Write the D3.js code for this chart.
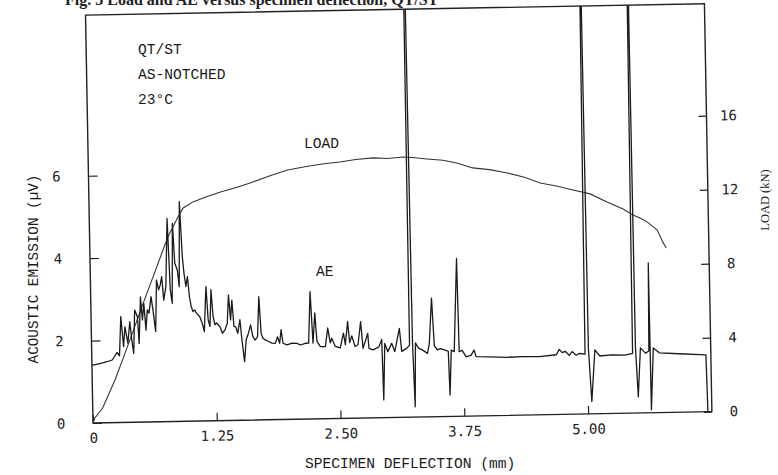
<!DOCTYPE html>
<html>
<head>
	<meta charset="utf-8" />
	<title>Load and AE</title>
	<style>
		body { margin: 0; background: #fff; }
		svg { display: block; }
		.tick text { font-family: "DejaVu Sans Mono", monospace; font-size: 14px; fill: #222; }
		.tick line { stroke: #222; stroke-width: 1.2; }
		.note { font-family: "Liberation Mono", "DejaVu Sans Mono", monospace; font-size: 14.6px; fill: #1a1a1a; }
	</style>
</head>
<body>
	<script type="text/javascript" src="https://cdn.jsdelivr.net/npm/d3@7/dist/d3.min.js"></script>
	<script type="text/javascript">
		// deflection ticks (mm)
		var xTicks = [0, 1.25, 2.50, 3.75, 5.00];
		var aeTicks = [0, 2, 4, 6];
		var loadTicks = [0, 4, 8, 12, 16];

		// load curve
		var loadMM = [0, 0.02, 0.10, 0.23, 0.31, 0.42, 0.53, 0.66, 0.79, 0.89, 0.95, 1.05, 1.18, 1.33, 1.50, 1.66, 1.84, 2.01, 2.20, 2.38, 2.54, 2.70, 2.88, 3.02, 3.18, 3.30, 3.42, 3.58, 3.72, 3.88, 4.05, 4.23, 4.40, 4.56, 4.72, 4.89, 5.06, 5.23, 5.39, 5.49, 5.56, 5.63, 5.73, 5.79, 5.82];
		var loadKN = [0, 0.27, 0.80, 2.30, 3.38, 4.90, 6.44, 8.20, 9.98, 11.0, 11.53, 11.85, 12.1, 12.36, 12.6, 12.87, 13.2, 13.48, 13.65, 13.78, 13.86, 13.98, 14.05, 14.0, 14.07, 14.02, 13.94, 13.85, 13.69, 13.41, 13.3, 13.1, 12.85, 12.53, 12.35, 12.12, 11.89, 11.44, 11.04, 10.71, 10.54, 10.32, 9.88, 9.17, 8.89];

		// acoustic emission trace (values of 11 are off scale, pen hits the top)
		var aeMM = [0.00, 0.02, 0.10, 0.15, 0.205, 0.256, 0.28, 0.30, 0.323, 0.34, 0.367, 0.39, 0.407, 0.424, 0.441, 0.468, 0.481, 0.502, 0.518, 0.535,
			0.552, 0.569, 0.586, 0.609, 0.626, 0.650, 0.667, 0.687, 0.704, 0.720, 0.737, 0.761, 0.785, 0.805, 0.822, 0.838, 0.855, 0.879, 0.896, 0.912,
			0.932, 0.946, 0.963, 0.980, 0.997, 1.013, 1.030, 1.047, 1.064, 1.098, 1.121, 1.141, 1.165, 1.182, 1.199, 1.215, 1.232, 1.249, 1.266, 1.300,
			1.323, 1.350, 1.374, 1.391, 1.408, 1.424, 1.441, 1.458, 1.478, 1.502, 1.519, 1.542, 1.562, 1.586, 1.609, 1.629, 1.653, 1.677, 1.697, 1.714,
			1.731, 1.754, 1.788, 1.822, 1.855, 1.879, 1.899, 1.916, 1.933, 1.973, 2.024, 2.074, 2.108, 2.158, 2.192, 2.215, 2.236, 2.259, 2.276, 2.310,
			2.360, 2.387, 2.410, 2.426, 2.460, 2.510, 2.545, 2.562, 2.589, 2.606, 2.629, 2.660, 2.690, 2.72, 2.74, 2.79, 2.80, 2.84, 2.90, 2.93,
			2.94, 2.96, 2.99, 3.03, 3.06, 3.11, 3.13, 3.18, 3.21, 3.215, 3.228, 3.24, 3.256, 3.27, 3.30, 3.33, 3.39, 3.41, 3.44, 3.46,
			3.49, 3.52, 3.57, 3.60, 3.61, 3.63, 3.66, 3.70, 3.71, 3.74, 3.78, 3.83, 3.86, 3.88, 4.02, 4.19, 4.35, 4.52, 4.69, 4.72,
			4.75, 4.78, 4.82, 4.85, 4.89, 4.92, 4.98, 4.995, 5.005, 5.015, 5.04, 5.08, 5.13, 5.25, 5.38, 5.46, 5.472, 5.482, 5.49, 5.51,
			5.54, 5.59, 5.625, 5.635, 5.64, 5.67, 5.73, 5.93, 6.14, 6.20, 6.21];
		var aeUV = [1.40, 1.41, 1.45, 1.48, 1.52, 1.70, 1.62, 2.57, 1.84, 2.32, 1.92, 2.44, 2.00, 1.67, 2.72, 2.56, 1.91, 3.04, 2.48, 2.88,
			2.23, 2.72, 2.64, 3.04, 2.72, 2.19, 3.44, 3.20, 3.32, 3.52, 2.95, 3.28, 4.93, 3.19, 2.87, 4.81, 3.84, 3.68, 3.27, 5.33,
			4.00, 3.59, 3.27, 3.51, 3.02, 2.78, 2.66, 2.70, 2.62, 2.53, 2.37, 2.17, 3.26, 2.45, 2.29, 3.18, 2.53, 2.33, 2.37, 2.28,
			2.12, 2.20, 2.36, 3.05, 2.44, 2.92, 2.28, 2.27, 2.11, 2.44, 1.95, 1.42, 1.95, 2.11, 2.31, 2.03, 1.94, 2.02, 2.99, 2.10,
			1.98, 1.94, 1.90, 1.86, 1.85, 2.01, 1.85, 2.18, 1.85, 1.81, 1.85, 1.84, 1.80, 1.84, 1.84, 3.09, 1.84, 2.57, 1.88, 1.75,
			1.75, 2.20, 1.84, 1.95, 1.75, 1.71, 2.07, 1.79, 2.35, 1.84, 2.00, 1.74, 1.78, 2.34, 1.69, 2.05, 1.69, 1.65, 1.72, 1.90,
			0.43, 1.80, 1.60, 1.80, 1.60, 2.16, 1.60, 1.67, 1.75, 11, 11, 1.85, 0.25, 1.80, 1.67, 1.64, 1.54, 1.78, 2.88, 1.72,
			1.62, 1.65, 1.61, 1.58, 0.52, 1.61, 1.57, 3.83, 1.57, 1.60, 1.44, 1.48, 1.60, 1.44, 1.43, 1.41, 1.42, 1.41, 1.45, 1.58,
			1.50, 1.53, 1.43, 1.52, 1.43, 1.47, 1.45, 11, 11, 1.60, 0.30, 1.55, 1.40, 1.42, 1.41, 1.45, 11, 11, 1.60, 0.39,
			1.58, 1.45, 1.50, 3.64, 0.07, 1.57, 1.45, 1.42, 1.39, 1.38, 0];

		var W = 619, H = 408;
		var svg = d3.select("body").append("svg").attr("width", 778).attr("height", 475);

		// figure caption, mostly cut off by the page edge
		svg.append("text")
			.attr("x", 65).attr("y", 5)
			.style("font-family", "Liberation Serif, serif").style("font-size", "16px").style("font-weight", "bold")
			.style("fill", "#222")
			.text("Fig. 5  Load and AE versus specimen deflection, QT/ST");

		// the scan is slightly rotated
		var g = svg.append("g").attr("transform", "translate(93,423) rotate(-1.05)");

		var x = d3.scaleLinear().domain([0, 6.25]).range([0, W]);
		var yAE = d3.scaleLinear().domain([0, 9.9]).range([0, -H]);
		var yLoad = d3.scaleLinear().domain([0, H / 18.5]).range([0, -H]);

		g.append("clipPath").attr("id", "plotClip")
			.append("rect").attr("x", 0).attr("y", -H).attr("width", W).attr("height", H);

		var xAxis = g.append("g")
			.call(d3.axisBottom(x).tickValues(xTicks).tickSizeInner(-8).tickSizeOuter(0).tickPadding(10)
				.tickFormat(function(d) { return d == 0 ? "0" : d.toFixed(2); }));
		xAxis.select(".domain").remove();

		var leftAxis = g.append("g")
			.call(d3.axisLeft(yAE).tickValues(aeTicks).tickSizeInner(-9).tickSizeOuter(0).tickPadding(0));
		leftAxis.select(".domain").remove();
		leftAxis.selectAll("text").attr("text-anchor", "middle").attr("x", -32);

		var rightAxis = g.append("g").attr("transform", "translate(" + W + ",0)")
			.call(d3.axisRight(yLoad).tickValues(loadTicks).tickSizeInner(-8).tickSizeOuter(0).tickPadding(0));
		rightAxis.select(".domain").remove();
		rightAxis.selectAll("text").attr("text-anchor", "middle").attr("x", 22);

		g.append("rect")
			.attr("x", 0).attr("y", -H).attr("width", W).attr("height", H)
			.attr("fill", "none").attr("stroke", "#222").attr("stroke-width", 1.4);

		var plot = g.append("g").attr("clip-path", "url(#plotClip)");

		var loadLine = d3.line()
			.x(function(d, i) { return x(loadMM[i]); })
			.y(function(d) { return yLoad(d); });
		plot.append("path")
			.attr("d", loadLine(loadKN))
			.attr("fill", "none").attr("stroke", "#333").attr("stroke-width", 1.1);

		var aeLine = d3.line()
			.x(function(d, i) { return x(aeMM[i]); })
			.y(function(d) { return yAE(d); });
		plot.append("path")
			.attr("d", aeLine(aeUV))
			.attr("fill", "none").attr("stroke", "#1a1a1a").attr("stroke-width", 1.3)
			.attr("stroke-linejoin", "round");

		// annotations
		var notes = [
			{ t: "QT/ST", x: 138, y: 54 },
			{ t: "AS-NOTCHED", x: 138, y: 79 },
			{ t: "23°C", x: 138, y: 104 },
			{ t: "LOAD", x: 304, y: 148 },
			{ t: "AE", x: 316, y: 276 }
		];
		svg.selectAll("text.note").data(notes).enter().append("text")
			.attr("class", "note")
			.attr("x", function(d) { return d.x; })
			.attr("y", function(d) { return d.y; })
			.text(function(d) { return d.t; });

		svg.append("text").attr("class", "note")
			.attr("transform", "translate(38,269) rotate(-90)")
			.attr("text-anchor", "middle")
			.style("font-size", "14.3px")
			.text("ACOUSTIC EMISSION  (µV)");

		svg.append("text").attr("class", "note")
			.attr("x", 305).attr("y", 468)
			.text("SPECIMEN DEFLECTION  (mm)");

		svg.append("text")
			.attr("transform", "translate(769,200) rotate(-90)")
			.attr("text-anchor", "middle")
			.style("font-family", "Liberation Serif, serif").style("font-size", "12.5px").style("fill", "#222")
			.text("LOAD  (kN)");
	</script>
</body>
</html>
